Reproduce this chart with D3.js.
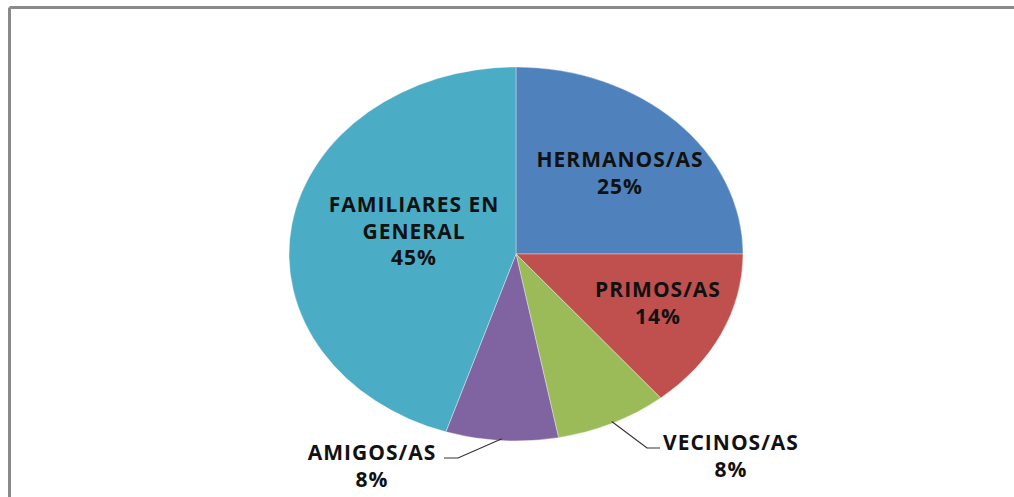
<!DOCTYPE html>
<html>
<head>
<meta charset="utf-8">
<script src="https://cdn.jsdelivr.net/npm/d3@7"></script>
<style>
  html, body { margin: 0; padding: 0; background: #fff; }
  svg { display: block; }
  .lbl { font-family: "Open Sans", sans-serif; font-weight: 700; font-size: 21px; letter-spacing: 1px; fill: #111; }
</style>
</head>
<body>
<script>
// data
const categories = ["HERMANOS/AS", "PRIMOS/AS", "VECINOS/AS", "AMIGOS/AS", "FAMILIARES EN GENERAL"];
const values = [25, 14, 8, 8, 45];
const percentLabels = ["25%", "14%", "8%", "8%", "45%"];
const colors = ["#4f81bd", "#c0504d", "#9bbb59", "#8064a2", "#4bacc6"];

// label layout (text lines + where the block sits)
const labelLines = [
  ["HERMANOS/AS", "25%"],
  ["PRIMOS/AS", "14%"],
  ["VECINOS/AS", "8%"],
  ["AMIGOS/AS", "8%"],
  ["FAMILIARES EN", "GENERAL", "45%"]
];
const labelXY = [[620, 167], [658, 297], [731, 450], [372, 460], [414, 212]];
// leader lines: elbow and end for outside labels (null = inside)
const leaders = [null, null, [[647, 448], [660, 448]], [[458, 458], [444, 458]], null];

const W = 1014, H = 497;
const cx = 516, cy = 254, rx = 227, ry = 187;

const svg = d3.select("body").append("svg")
  .attr("width", W)
  .attr("height", H);

// frame (top + left edges visible)
svg.append("line").attr("x1", 9.5).attr("y1", 7.5).attr("x2", W).attr("y2", 7.5)
  .attr("stroke", "#8a8a8a").attr("stroke-width", 3);
svg.append("line").attr("x1", 9.5).attr("y1", 7.5).attr("x2", 9.5).attr("y2", H)
  .attr("stroke", "#8a8a8a").attr("stroke-width", 3);

const pie = d3.pie().sort(null).value(d => d)(values);
const arc = d3.arc().innerRadius(0).outerRadius(ry);

// pie drawn as circle of radius ry and stretched horizontally
const g = svg.append("g")
  .attr("transform", "translate(" + cx + "," + cy + ") scale(" + (rx / ry) + ",1)");

g.selectAll("path.slice")
  .data(pie)
  .enter()
  .append("path")
  .attr("class", "slice")
  .attr("d", arc)
  .attr("fill", (d, i) => colors[i])
  .attr("stroke", "#ffffff")
  .attr("stroke-opacity", 0.6)
  .attr("stroke-width", 0.6)
  .attr("vector-effect", "non-scaling-stroke");

// leader lines from the slice edge
pie.forEach((d, i) => {
  if (!leaders[i]) return;
  const a = (d.startAngle + d.endAngle) / 2;
  const sx = cx + Math.sin(a) * rx * 0.99;
  const sy = cy - Math.cos(a) * ry * 0.99;
  const pts = [[sx, sy]].concat(leaders[i]);
  svg.append("path")
    .attr("d", d3.line()(pts))
    .attr("fill", "none")
    .attr("stroke", "#333")
    .attr("stroke-width", 1.2);
});

// labels
labelLines.forEach((lines, i) => {
  const t = svg.append("text")
    .attr("class", "lbl")
    .attr("text-anchor", "middle")
    .attr("x", labelXY[i][0])
    .attr("y", labelXY[i][1]);
  lines.forEach((s, k) => {
    t.append("tspan")
      .attr("x", labelXY[i][0])
      .attr("dy", k === 0 ? 0 : 26.5)
      .text(s);
  });
});
</script>
</body>
</html>
